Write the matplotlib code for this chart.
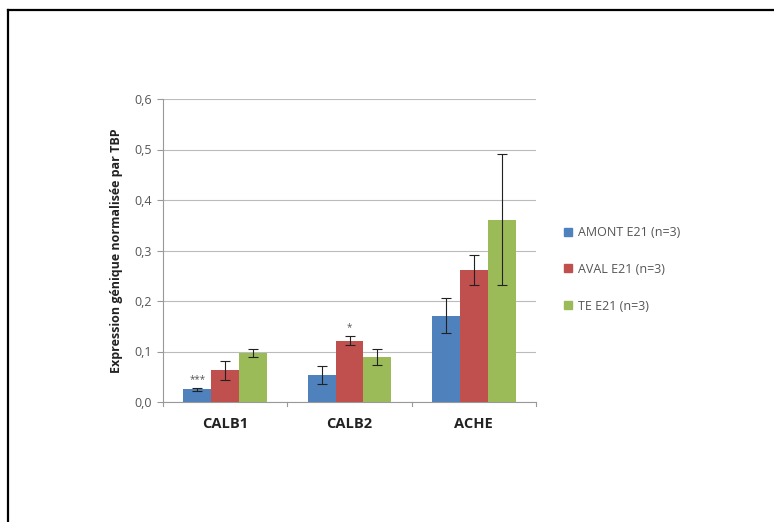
import matplotlib
matplotlib.use("Agg")
import matplotlib.pyplot as plt
import numpy as np
from matplotlib.lines import Line2D

categories = ["CALB1", "CALB2", "ACHE"]
series_names = ["AMONT E21 (n=3)", "AVAL E21 (n=3)", "TE E21 (n=3)"]
amont = [0.025, 0.054, 0.171]
amont_err = [0.003, 0.018, 0.035]
aval = [0.063, 0.121, 0.261]
aval_err = [0.019, 0.009, 0.030]
te = [0.097, 0.089, 0.361]
te_err = [0.008, 0.015, 0.130]
signif = [["***", "", ""], ["", "*", ""], ["", "", ""]]  # per category, per series
yticks = [0.0, 0.1, 0.2, 0.3, 0.4, 0.5, 0.6]
ytick_labels = ["0,0", "0,1", "0,2", "0,3", "0,4", "0,5", "0,6"]

colors = ["#4F81BD", "#C0504D", "#9BBB59"]
plt.rcParams['font.family'] = ['Open Sans', 'DejaVu Sans']

fig = plt.figure(figsize=(7.74, 5.22), dpi=100)
ax = fig.add_axes([163/774, 1-402/522, 373/774, 303/522])

x = np.arange(len(categories))
w = 0.225
values = [amont, aval, te]
errs = [amont_err, aval_err, te_err]
for k in range(3):
    pos = x + (k - 1) * w
    ax.bar(pos, values[k], width=w, color=colors[k], label=series_names[k], zorder=3)
    ax.errorbar(pos, values[k], yerr=errs[k], fmt='none', ecolor='#222222',
                elinewidth=0.8, capsize=3.5, capthick=0.8, zorder=4)
    for i in range(len(categories)):
        s = signif[i][k]
        if s:
            ax.text(pos[i], values[k][i] + errs[k][i] + 0.006, s, ha='center', va='bottom',
                    fontsize=7, color='#555555', zorder=5)

ax.set_xlim(-0.5, len(categories) - 0.5)
ax.set_ylim(0, 0.6)
ax.set_yticks(yticks)
ax.set_yticklabels(ytick_labels, fontsize=9, color='#555555')
ax.set_xticks(x)
ax.set_xticklabels(categories, fontsize=10.5, fontweight='bold', color='#222222')
ax.tick_params(axis='x', length=0, pad=11)
ax.tick_params(axis='y', length=4, color='#999999', pad=4)
# category separator ticks
for b in [-0.5, 0.5, 1.5, 2.5]:
    ax.plot([b, b], [0, -0.008], color='#999999', lw=0.8, clip_on=False, zorder=2)

ax.grid(axis='y', color='#BBBBBB', lw=0.8, zorder=0)
for side in ['top', 'right']:
    ax.spines[side].set_visible(False)
ax.spines['left'].set_color('#999999')
ax.spines['bottom'].set_color('#999999')
ax.set_ylabel("Expression génique normalisée par TBP", fontsize=9, fontweight='bold',
              color='#222222', labelpad=8)

handles = [plt.Rectangle((0, 0), 1, 1, color=c) for c in colors]
leg = fig.legend(handles, series_names, loc='upper left', bbox_to_anchor=(559/774, 1-221/522),
                 frameon=False, fontsize=9, handlelength=0.6, handleheight=0.6,
                 labelspacing=1.9, handletextpad=0.5, borderaxespad=0)
for t in leg.get_texts():
    t.set_color('#555555')

# outer frame lines (top and left only)
fig.add_artist(Line2D([8/774, 1], [1-9.5/522, 1-9.5/522], transform=fig.transFigure, color='black', lw=1.6))
fig.add_artist(Line2D([8/774, 8/774], [0, 1-9.5/522], transform=fig.transFigure, color='black', lw=1.6))

fig.savefig("out.png", dpi=100)
